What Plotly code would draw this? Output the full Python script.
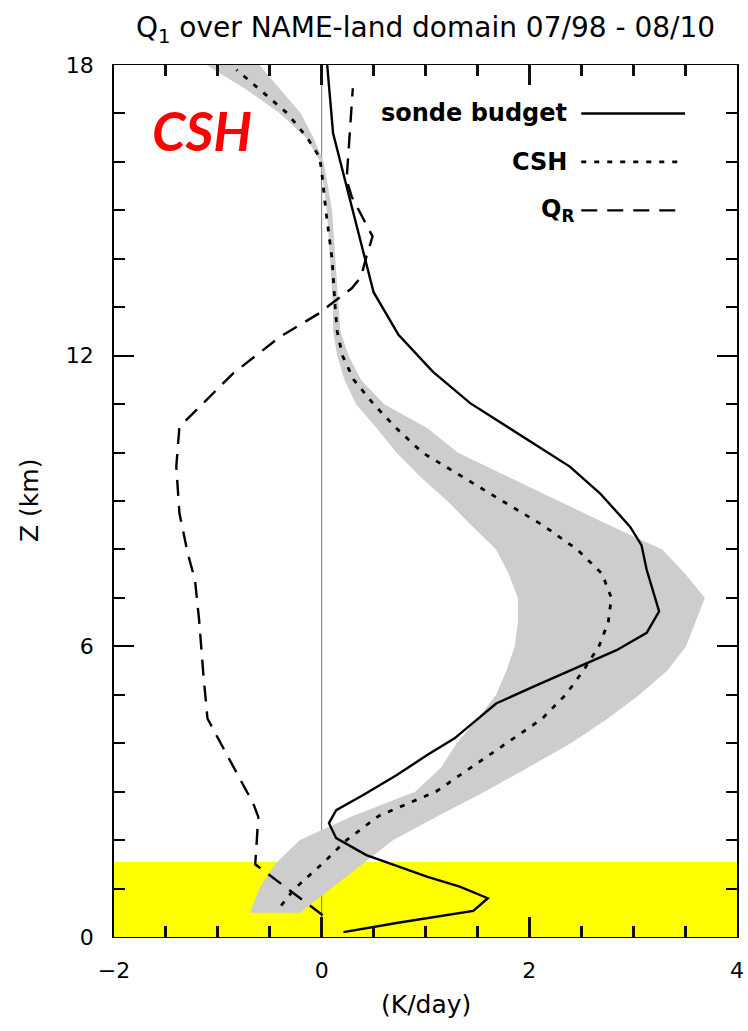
import plotly.graph_objects as go

# ---------------- data ----------------
# Sonde budget Q1 (solid)
sonde_z = [0.10, 0.30, 0.54, 0.80, 1.04, 1.24, 1.45, 1.69, 2.04, 2.35, 2.62, 2.93, 3.34,
           3.76, 4.10, 4.82, 5.17, 5.55, 5.92, 6.28, 6.72, 7.58, 8.09, 8.47, 9.16,
           9.71, 10.40, 11.02, 11.67, 12.43, 13.31, 16.59, 18.33]
sonde_q = [0.21, 0.75, 1.46, 1.60, 1.33, 1.02, 0.75, 0.43, 0.14, 0.07, 0.14, 0.40, 0.72,
           1.02, 1.28, 1.68, 2.04, 2.44, 2.84, 3.13, 3.25, 3.13, 3.08, 2.97, 2.68,
           2.39, 1.88, 1.43, 1.07, 0.74, 0.50, 0.11, 0.04]

# CSH mean (dotted)
csh_z = [0.65, 1.0, 1.5, 2.0, 2.5, 3.0, 3.5, 4.0, 4.5, 5.0, 5.5, 6.0, 6.5, 7.0, 7.5,
         8.0, 8.5, 9.0, 9.5, 10.0, 10.5, 11.0, 11.5, 12.0, 12.5, 13.0, 14.0, 15.0,
         15.8, 16.1, 16.5, 17.0, 17.5, 17.9]
csh_q = [-0.39, -0.26, 0.00, 0.24, 0.55, 1.10, 1.44, 1.78, 2.12, 2.35, 2.52, 2.67, 2.76,
         2.79, 2.70, 2.46, 2.13, 1.74, 1.35, 0.97, 0.72, 0.50, 0.31, 0.20, 0.15, 0.13,
         0.10, 0.04, 0.00, -0.02, -0.14, -0.33, -0.60, -0.82]

# CSH spread (grey shading): lower / upper bounds
band_z = [0.5, 1.0, 1.5, 2.0, 2.5, 3.0, 3.5, 4.0, 4.5, 5.0, 5.5, 6.0, 6.5, 7.0, 7.5,
          8.0, 8.5, 9.0, 9.5, 10.0, 10.5, 11.0, 11.5, 12.0, 12.5, 13.0, 14.0, 15.0,
          16.0, 16.5, 17.0, 17.5, 18.0]
band_lo = [-0.69, -0.60, -0.45, -0.21, 0.30, 0.90, 1.15, 1.30, 1.50, 1.68, 1.78, 1.86,
           1.89, 1.89, 1.80, 1.68, 1.44, 1.21, 0.95, 0.72, 0.53, 0.33, 0.22, 0.15, 0.11,
           0.11, 0.08, 0.05, -0.01, -0.15, -0.40, -0.73, -1.11]
band_hi = [-0.21, 0.09, 0.39, 0.69, 1.12, 1.57, 1.99, 2.40, 2.75, 3.06, 3.33, 3.51,
           3.60, 3.69, 3.50, 3.28, 2.77, 2.28, 1.80, 1.31, 1.02, 0.60, 0.38, 0.26, 0.18,
           0.16, 0.13, 0.10, 0.02, -0.08, -0.20, -0.40, -0.60]

# Radiative heating Q_R (dashed)
qr_z = [0.45, 0.90, 1.50, 2.48, 2.76, 3.79, 4.51, 5.44, 6.54, 7.37, 7.92, 8.75, 9.71,
        10.53, 10.81, 11.64, 12.39, 12.88, 13.05, 13.39, 13.63, 14.04, 14.46, 15.28,
        15.63, 17.52]
qr_q = [0.01, -0.27, -0.64, -0.61, -0.66, -0.92, -1.10, -1.14, -1.18, -1.22, -1.29,
        -1.37, -1.40, -1.37, -1.24, -0.85, -0.40, -0.02, 0.08, 0.29, 0.38, 0.43, 0.49,
        0.29, 0.24, 0.30]

boundary_layer_top = 1.55  # yellow shaded layer (km)
zero_line_x = 0.0

x_range = [-2, 4]
z_range = [0, 18]
x_ticks = [-2, 0, 2, 4]
z_ticks = [0, 6, 12, 18]

title_text = "Q<sub>1</sub> over NAME-land domain 07/98 - 08/10"
legend_labels = ["sonde budget", "CSH", "Q<sub>R</sub>"]
legend_z = [17, 16, 15]
legend_x = [2.5, 3.5]

# ---------------- figure ----------------
FONT = "DejaVu Sans"
fig = go.Figure()

# grey CSH spread
fig.add_trace(go.Scatter(
    x=band_lo + band_hi[::-1], y=band_z + band_z[::-1],
    fill="toself", fillcolor="#cdcdcd", line=dict(width=0),
    mode="lines", hoverinfo="skip", showlegend=False))

fig.add_trace(go.Scatter(x=qr_q, y=qr_z, mode="lines",
                         line=dict(color="black", width=2.4, dash="16px,10px"),
                         showlegend=False))
fig.add_trace(go.Scatter(x=csh_q, y=csh_z, mode="lines",
                         line=dict(color="black", width=2.8, dash="5px,8px"),
                         showlegend=False))
fig.add_trace(go.Scatter(x=sonde_q, y=sonde_z, mode="lines",
                         line=dict(color="black", width=2.4),
                         showlegend=False))

# yellow layer
fig.add_shape(type="rect", xref="paper", yref="y", x0=0, x1=1,
              y0=z_range[0], y1=boundary_layer_top,
              fillcolor="#ffff00", line=dict(width=0), layer="below")
# thin vertical zero line
fig.add_shape(type="line", xref="x", yref="paper", x0=zero_line_x, x1=zero_line_x,
              y0=0, y1=1, line=dict(color="#777777", width=1), layer="below")

# legend (text + sample lines)
styles = [dict(color="black", width=2.4),
          dict(color="black", width=2.8, dash="5px,8px"),
          dict(color="black", width=2.4, dash="16px,10px")]
text_x = [2.38, 2.38, 2.45]
for lab, zz, st, tx in zip(legend_labels, legend_z, styles, text_x):
    fig.add_annotation(x=tx, y=zz, xref="x", yref="y", text=f"<b>{lab}</b>",
                       showarrow=False, xanchor="right", yanchor="middle",
                       font=dict(family=FONT, size=24, color="black"))
    fig.add_shape(type="line", xref="x", yref="y", x0=legend_x[0], x1=legend_x[1],
                  y0=zz, y1=zz, line=st)

# red CSH label
fig.add_annotation(x=0.141, y=0.925, xref="paper", yref="paper",
                   text="<b><i>CSH</i></b>", showarrow=False,
                   xanchor="center", yanchor="middle",
                   font=dict(family="Lato", size=54, color="#ff0000"))

# axis titles
fig.add_annotation(x=0, y=0.5, xref="paper", yref="paper", xshift=-85,
                   text="Z (km)", textangle=-90, showarrow=False,
                   xanchor="center", yanchor="middle",
                   font=dict(family=FONT, size=25, color="black"))
fig.add_annotation(x=0.5, y=0, xref="paper", yref="paper", yshift=-67,
                   text="(K/day)", showarrow=False,
                   xanchor="center", yanchor="middle",
                   font=dict(family=FONT, size=25, color="black"))

fig.update_layout(
    width=748, height=1031,
    margin=dict(l=114, r=11, t=65, b=94, autoexpand=False),
    paper_bgcolor="white", plot_bgcolor="white",
    title=dict(text=title_text, x=0.5, xref="paper", y=1 - 27 / 1031,
               yref="container", xanchor="center", yanchor="middle",
               font=dict(family=FONT, size=28, color="black")),
    showlegend=False,
    xaxis=dict(range=x_range, tickvals=x_ticks, zeroline=False,
               showline=True, linecolor="black", mirror="allticks",
               ticks="inside", ticklen=20, tickwidth=3, tickcolor="#111111",
               showgrid=False, ticklabelstandoff=14,
               tickfont=dict(family=FONT, size=22, color="black"),
               minor=dict(dtick=0.5, ticks="inside", ticklen=11, tickwidth=3,
                          tickcolor="#111111")),
    yaxis=dict(range=z_range, tickvals=z_ticks, zeroline=False,
               showline=True, linecolor="black", linewidth=1.5, mirror="allticks",
               ticks="inside", ticklen=20, tickwidth=2, tickcolor="black",
               showgrid=False, automargin=False, ticklabelstandoff=14,
               tickfont=dict(family=FONT, size=22, color="black"),
               minor=dict(dtick=1, ticks="inside", ticklen=11, tickwidth=2,
                          tickcolor="black", showgrid=False)),
)

fig.write_html("out.html")
